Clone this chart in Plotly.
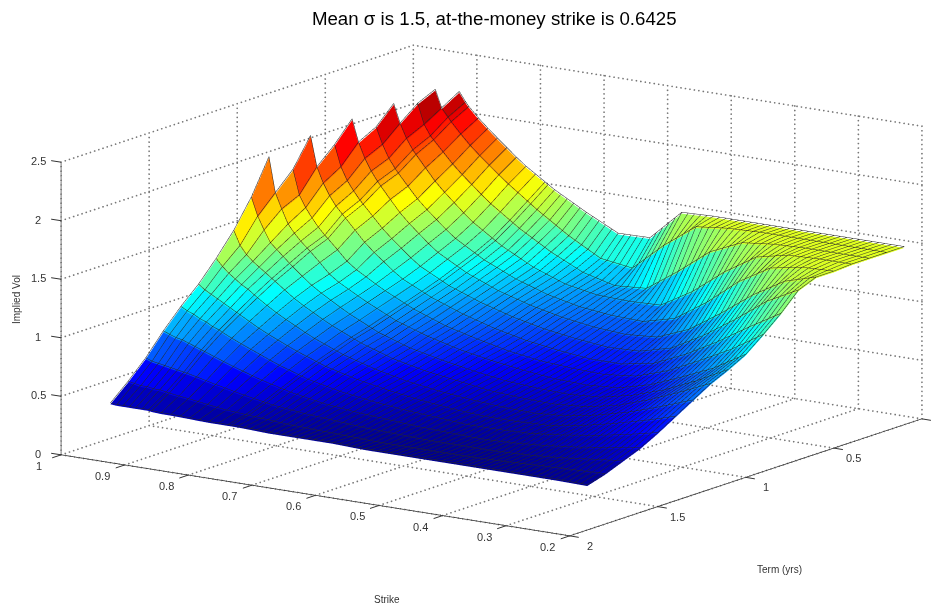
import numpy as np
import plotly.graph_objects as go

strikes = [.20,.25,.30,.35,.40,.45,.50,.55,.60,.65,.70,.75,.80,.85,.88,.89,.90,.91,.92,.93,.94,.95]
terms = [.1,.2,.3,.4,.5,.6,.7,.8,.9,1.0,1.1,1.2,1.3,1.4,1.5,1.6,1.7,1.8,1.9]

vol_t01 = [1.51,1.51,1.51,1.51,1.51,1.51,1.51,1.50,1.24,1.235,1.37,1.52,1.70,1.93,2.08,2.15,2.23]
vol_t02 = [1.51,1.51,1.51,1.51,1.51,1.50,1.47,1.27,1.03,1.07,1.22,1.40,1.60,1.83,2.00,2.07,2.14,2.29]
vol_t03 = [1.51,1.51,1.51,1.50,1.47,1.35,1.14,.95,.93,1.00,1.13,1.29,1.48,1.72,1.90,1.96,2.05,2.22]
vol_t04 = [1.51,1.51,1.50,1.44,1.27,1.06,.90,.89,.90,.95,1.05,1.19,1.37,1.62,1.82,1.89,1.98,2.10,2.26]
vol_t05 = [1.50,1.49,1.44,1.28,1.06,.88,.81,.82,.85,.91,1.00,1.12,1.28,1.52,1.71,1.78,1.86,1.97,2.11]
vol_t06 = [1.50,1.42,1.26,1.06,.88,.77,.75,.77,.81,.87,.95,1.06,1.21,1.45,1.65,1.72,1.80,1.90,2.03,2.22]
vol_t07 = [1.44,1.30,1.10,.92,.77,.70,.69,.72,.76,.82,.90,1.00,1.14,1.37,1.55,1.61,1.68,1.76,1.87,2.05]
vol_t08 = [1.29,1.13,.96,.81,.69,.64,.64,.67,.71,.77,.85,.95,1.08,1.30,1.48,1.54,1.60,1.68,1.78,1.91,2.17]
vol_t09 = [1.16,.99,.85,.72,.63,.60,.61,.63,.67,.73,.80,.90,1.03,1.19,1.36,1.41,1.47,1.54,1.62,1.72,1.93]
vol_t10 = [1.04,.88,.76,.65,.58,.56,.57,.60,.64,.69,.76,.85,.98,1.13,1.30,1.35,1.40,1.46,1.53,1.65,1.78,2.08]
vol_t11 = [.96,.82,.70,.61,.55,.53,.54,.56,.60,.65,.71,.80,.93,1.09,1.22,1.27,1.32,1.37,1.42,1.52,1.63,1.785]
vol_t12 = [.89,.77,.66,.57,.52,.50,.51,.53,.57,.61,.67,.76,.88,1.03,1.15,1.19,1.23,1.27,1.31,1.36,1.43,1.55]
vol_t13 = [.80,.70,.61,.54,.49,.47,.48,.50,.53,.57,.63,.71,.82,.96,1.06,1.10,1.14,1.17,1.21,1.25,1.30,1.36]
vol_t14 = [.71,.63,.56,.50,.46,.45,.45,.47,.50,.54,.59,.66,.76,.88,.97,1.00,1.03,1.06,1.09,1.12,1.15,1.19]
vol_t15 = [.62,.56,.51,.47,.44,.43,.43,.45,.47,.50,.54,.60,.69,.80,.87,.90,.92,.95,.97,1.00,1.02,1.05]
vol_t16 = [.54,.50,.46,.43,.41,.40,.41,.42,.44,.46,.49,.54,.61,.70,.76,.78,.80,.82,.84,.85,.87,.89]
vol_t17 = [.48,.45,.42,.40,.39,.39,.39,.40,.41,.43,.45,.48,.53,.59,.63,.64,.65,.66,.67,.68,.69,.71]
vol_t18 = [.42,.41,.40,.39,.38,.38,.38,.38,.39,.40,.41,.43,.45,.49,.51,.52,.53,.53,.54,.54,.55,.56]
vol_t19 = [.375,.38,.38,.38,.38,.38,.38,.38,.39,.39,.39,.40,.40,.41,.41,.42,.42,.42,.42,.42,.42,.425]

strike_ticks = [.2,.3,.4,.5,.6,.7,.8,.9,1]
strike_labels = ["0.2","0.3","0.4","0.5","0.6","0.7","0.8","0.9","1"]
term_ticks = [0,.5,1,1.5,2]
term_labels = ["0","0.5","1","1.5","2"]
vol_ticks = [0,.5,1,1.5,2,2.5]
vol_labels = ["0","0.5","1","1.5","2","2.5"]

rows = [vol_t01,vol_t02,vol_t03,vol_t04,vol_t05,vol_t06,vol_t07,vol_t08,vol_t09,vol_t10,
        vol_t11,vol_t12,vol_t13,vol_t14,vol_t15,vol_t16,vol_t17,vol_t18,vol_t19]

jet = [[0,"#00008f"],[.125,"#0000ff"],[.375,"#00ffff"],[.625,"#ffff00"],[.875,"#ff0000"],[1,"#800000"]]

# facet grid: each term row is read along the strike steps the mesh lines fall on
mesh_strikes = np.round(np.r_[np.arange(.20, .76, .01), np.arange(.765, .89, .015), np.arange(.89, .955, .01)], 3)
M = np.full((len(terms), len(mesh_strikes)), np.nan)
for i, r in enumerate(rows):
    valid = mesh_strikes <= strikes[len(r)-1] + 1e-9
    M[i, valid] = np.interp(mesh_strikes[valid], strikes[:len(r)], r)

vx, vy, vz, fi, fj, fk, fc = [], [], [], [], [], [], []
index = {}
for i, t in enumerate(terms):
    for j, k in enumerate(mesh_strikes):
        if not np.isnan(M[i, j]):
            index[(i, j)] = len(vx)
            vx.append(float(k)); vy.append(t); vz.append(float(M[i, j]))
for i in range(len(terms)-1):
    for j in range(len(mesh_strikes)-1):
        q = [(i, j), (i, j+1), (i+1, j+1), (i+1, j)]
        if all(p in index for p in q):
            a, b, c, d = [index[p] for p in q]
            level = float(np.mean([M[p] for p in q]))
            fi += [a, a]; fj += [b, c]; fk += [c, d]; fc += [level, level]

fig = go.Figure()
fig.add_trace(go.Mesh3d(
    x=vx, y=vy, z=vz, i=fi, j=fj, k=fk, intensity=fc, intensitymode="cell",
    colorscale=jet, cmin=.375, cmax=2.29, showscale=False, flatshading=True, hoverinfo="skip",
    lighting=dict(ambient=1, diffuse=0, specular=0, fresnel=0, roughness=1),
))

# mesh lines lying on the surface: one per term, and one per strike step
LIFT = .012
lx, ly, lz = [], [], []
for i, t in enumerate(terms):
    for j, k in enumerate(mesh_strikes):
        if not np.isnan(M[i, j]):
            lx.append(float(k)); ly.append(t); lz.append(float(M[i, j]) + LIFT)
    lx.append(None); ly.append(None); lz.append(None)
for j, k in enumerate(mesh_strikes):
    for i, t in enumerate(terms):
        if not np.isnan(M[i, j]):
            lx.append(float(k)); ly.append(t); lz.append(float(M[i, j]) + LIFT)
    lx.append(None); ly.append(None); lz.append(None)
fig.add_trace(go.Scatter3d(x=lx, y=ly, z=lz, mode="lines", hoverinfo="skip", showlegend=False,
                           connectgaps=False, line=dict(color="#262626", width=1)))

# dotted grid on the floor and the two back walls, one small marker per dot
gx, gy, gz = [], [], []
def seg(a, b, n):
    gx.extend(np.linspace(a[0], b[0], n)); gy.extend(np.linspace(a[1], b[1], n)); gz.extend(np.linspace(a[2], b[2], n))
kmin, kmax = strike_ticks[0], strike_ticks[-1]
tmin, tmax = term_ticks[0], term_ticks[-1]
zmin, zmax = vol_ticks[0], vol_ticks[-1]
for k in strike_ticks:
    seg((k, tmin, zmin), (k, tmax, zmin), 85)
    seg((k, tmin, zmin), (k, tmin, zmax), 65)
for t in term_ticks:
    seg((kmin, t, zmin), (kmax, t, zmin), 115)
    seg((kmax, t, zmin), (kmax, t, zmax), 65)
for v in vol_ticks:
    seg((kmin, tmin, v), (kmax, tmin, v), 115)
    seg((kmax, tmin, v), (kmax, tmax, v), 85)
fig.add_trace(go.Scatter3d(x=gx, y=gy, z=gz, mode="markers", hoverinfo="skip", showlegend=False,
                           marker=dict(color="#777777", size=1, line=dict(width=0))))

axis = dict(showgrid=False, showbackground=False, zeroline=False, showline=True, linecolor="#222222",
            linewidth=1.5, ticks="", showspikes=False, showticklabels=False, title=dict(text=""))
tick_font = dict(family="Liberation Sans", size=11, color="#333333")
def label(x, y, z, text, dx, dy):
    return dict(x=x, y=y, z=z, text=text, showarrow=False, xshift=dx, yshift=-dy, font=tick_font,
                xanchor="center", yanchor="middle")
def tick(x, y, z, dx, dy):
    return dict(x=x, y=y, z=z, text=" ", showarrow=True, arrowhead=0, arrowwidth=1, arrowcolor="#333333",
                ax=dx, ay=dy, standoff=0)
labels = ([label(k, tmax, zmin, s, -22, 11) for k, s in zip(strike_ticks, strike_labels)]
          + [label(kmin, t, zmin, s, 20, 10) for t, s in zip(term_ticks, term_labels)]
          + [label(kmax, tmax, v, s, -23, -1) for v, s in zip(vol_ticks, vol_labels)]
          + [tick(k, tmax, zmin, -12, 4) for k in strike_ticks]
          + [tick(kmin, t, zmin, 12, 2) for t in term_ticks]
          + [tick(kmax, tmax, v, -13, -2) for v in vol_ticks])
ZOOM = 2.19
fig.update_layout(
    width=946, height=606, paper_bgcolor="white", margin=dict(l=0, r=0, t=0, b=0),
    showlegend=False,
    title=dict(text="Mean σ is 1.5, at-the-money strike is 0.6425", x=.514, xanchor="center", y=.982, yanchor="middle",
               font=dict(family="Liberation Sans", size=18.7, color="black")),
    scene=dict(
        domain=dict(x=[.0223, 1], y=[.0676, 1]),
        aspectmode="manual", aspectratio=dict(x=ZOOM, y=ZOOM, z=.486*ZOOM),
        camera=dict(projection=dict(type="orthographic"), eye=dict(x=-.554*3, y=.8*3, z=.23*3),
                    center=dict(x=0, y=0, z=0), up=dict(x=0, y=0, z=1)),
        xaxis=dict(axis, range=[kmin, kmax], tickvals=strike_ticks),
        yaxis=dict(axis, range=[tmin, tmax], tickvals=term_ticks),
        zaxis=dict(axis, range=[zmin, zmax], tickvals=vol_ticks),
        annotations=labels,
    ),
    annotations=[
        dict(text="Strike", x=379, y=591),
        dict(text="Term (yrs)", x=771, y=561),
        dict(text="Implied Vol", x=8, y=292, textangle=-90),
    ],
)
for a in fig.layout.annotations:
    a.update(xref="paper", yref="paper", x=a.x/946, y=1-a.y/606, showarrow=False, xanchor="center", yanchor="middle",
             font=dict(family="Liberation Sans", size=10, color="#333333"))
fig.write_html("out.html")
